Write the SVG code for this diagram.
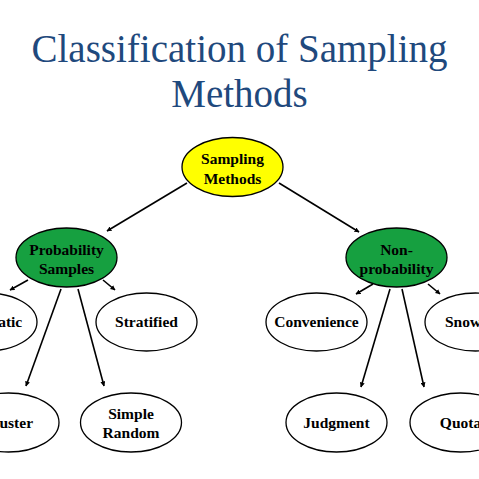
<svg xmlns="http://www.w3.org/2000/svg" width="479" height="479" viewBox="0 0 479 479">
<defs>
<marker id="ah" viewBox="0 0 10 10" refX="9" refY="5" markerWidth="5" markerHeight="5" orient="auto" markerUnits="userSpaceOnUse">
<path d="M0,0 L10,5 L0,10 z" fill="#000"/>
</marker>
<style>
text{font-family:'Liberation Serif','Times New Roman','DejaVu Serif',serif}
.title{font-size:39px;fill:#1F497D;text-anchor:middle}
.lbl{font-size:15.5px;font-weight:bold;fill:#000;text-anchor:middle}
.n{fill:#fff;stroke:#000;stroke-width:1.3}
.y{fill:#FFFF00;stroke:#000;stroke-width:1.3}
.g{fill:#16A040;stroke:#000;stroke-width:1.3}
.c line{stroke:#000;stroke-width:1.6;marker-end:url(#ah)}
</style>
</defs>
<rect width="479" height="479" fill="#fff"/>
<g id="title">
<text class="title" x="239.5" y="62">Classification of Sampling</text>
<text class="title" x="239.5" y="107">Methods</text>
</g>
<g class="c" id="connectors">
<line x1="187" y1="183" x2="107" y2="231"/>
<line x1="279" y1="183" x2="359" y2="232"/>
<line x1="28" y1="280" x2="10" y2="290"/>
<line x1="103" y1="280" x2="115" y2="290"/>
<line x1="61" y1="289" x2="26" y2="386"/>
<line x1="78" y1="289" x2="104" y2="386"/>
<line x1="373" y1="284" x2="356" y2="294"/>
<line x1="428" y1="284" x2="440" y2="294"/>
<line x1="390" y1="289" x2="361" y2="387"/>
<line x1="402" y1="289" x2="424" y2="387"/>
</g>
<g id="sampling">
<ellipse class="y" cx="232.5" cy="167" rx="50.5" ry="29.5"/>
<text class="lbl" x="232.5" y="164">Sampling</text>
<text class="lbl" x="232.5" y="184">Methods</text>
</g>
<g id="probability">
<ellipse class="g" cx="66.5" cy="257.5" rx="50.5" ry="29.5"/>
<text class="lbl" x="66.5" y="255">Probability</text>
<text class="lbl" x="66.5" y="274">Samples</text>
</g>
<g id="nonprobability">
<ellipse class="g" cx="396.5" cy="257.5" rx="50.5" ry="29.5"/>
<text class="lbl" x="396.5" y="255">Non-</text>
<text class="lbl" x="396.5" y="274">probability</text>
</g>
<g id="systematic">
<ellipse class="n" cx="-13.5" cy="322" rx="50.5" ry="29"/>
<text class="lbl" x="-13.5" y="327">Systematic</text>
</g>
<g id="stratified">
<ellipse class="n" cx="146.5" cy="322" rx="50.5" ry="29"/>
<text class="lbl" x="146.5" y="327">Stratified</text>
</g>
<g id="convenience">
<ellipse class="n" cx="316.5" cy="322" rx="50.5" ry="29"/>
<text class="lbl" x="316.5" y="327">Convenience</text>
</g>
<g id="snowball">
<ellipse class="n" cx="475.5" cy="322" rx="50.5" ry="29"/>
<text class="lbl" x="475.5" y="327">Snowball</text>
</g>
<g id="cluster">
<ellipse class="n" cx="8.5" cy="422.5" rx="50.5" ry="29.5"/>
<text class="lbl" x="8.5" y="428">Cluster</text>
</g>
<g id="simplerandom">
<ellipse class="n" cx="131" cy="422.5" rx="50.5" ry="29.5"/>
<text class="lbl" x="131" y="419">Simple</text>
<text class="lbl" x="131" y="438">Random</text>
</g>
<g id="judgment">
<ellipse class="n" cx="336.5" cy="422.5" rx="50.5" ry="29.5"/>
<text class="lbl" x="336.5" y="428">Judgment</text>
</g>
<g id="quota">
<ellipse class="n" cx="460.5" cy="422.5" rx="50.5" ry="29.5"/>
<text class="lbl" x="460.5" y="428">Quota</text>
</g>
</svg>
